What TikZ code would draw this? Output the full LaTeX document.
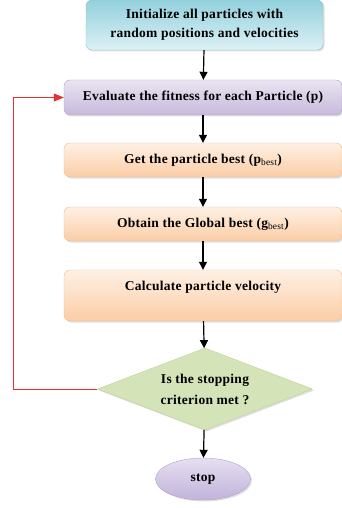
\documentclass[tikz,border=0pt]{standalone}
\usepackage{fontspec}
\setmainfont[LetterSpace=2.0]{Liberation Serif}
\usetikzlibrary{shapes.geometric,shadows,arrows.meta}

\definecolor{initborder}{HTML}{86C3D1}
\definecolor{inittop}{HTML}{93D0DD}
\definecolor{initbot}{HTML}{DDF1F5}
\definecolor{evalborder}{HTML}{B2A2CB}
\definecolor{evaltop}{HTML}{EAE4F2}
\definecolor{evalbot}{HTML}{C7B9DB}
\definecolor{stepborder}{HTML}{F4B98C}
\definecolor{steptop}{HTML}{FEF0E4}
\definecolor{stepbot}{HTML}{FBCDA6}
\definecolor{checkborder}{HTML}{BFD296}
\definecolor{checkfill}{HTML}{D5E3B8}
\definecolor{stoptop}{HTML}{E6DFF1}
\definecolor{stopbot}{HTML}{C2B3DA}
\definecolor{loopred}{HTML}{E8302E}

\tikzset{
	flowbox/.style={rectangle, rounded corners=6pt, align=center, inner sep=2pt,
		font=\fontsize{13.5}{19}\selectfont\bfseries,
		drop shadow={opacity=0.25, shadow xshift=1.5pt, shadow yshift=-1.5pt}},
}

\begin{document}
	\begin{tikzpicture}[x=1pt, y=-1pt]
		\useasboundingbox (0,0) rectangle (342,508);
		\begin{scope}[every node/.style={flowbox}]
			\node (init)[draw=initborder, top color=inittop, bottom color=initbot, minimum width=237pt, minimum height=50pt] at (204.5,25) {Initialize all particles with\\random positions and velocities};
			\node (eval)[draw=evalborder, top color=evaltop, bottom color=evalbot, minimum width=278pt, minimum height=35pt] at (203,97.5) {Evaluate the fitness for each Particle (p)};
		\end{scope}
		\begin{scope}[every node/.style={flowbox, draw=stepborder, top color=steptop, bottom color=stepbot, minimum width=278pt}]
			\node (pbest)[minimum height=34pt] at (203,160) {Get the particle best (p\textsubscript{\mdseries best})};
			\node (gbest)[minimum height=34pt] at (203,224) {Obtain the Global best (g\textsubscript{\mdseries best})};
			\node (veloc)[minimum height=51pt] at (203,295.5) {Calculate particle velocity\\\mbox{}};
		\end{scope}
		\node (check)[flowbox, diamond, rounded corners=0pt, inner sep=0pt, aspect=2.6, draw=checkborder, fill=checkfill, minimum width=215pt, minimum height=82pt, font=\fontsize{13.5}{21}\selectfont\bfseries] at (205,389) {Is the stopping\\criterion met ?};
		\node (stop)[flowbox, ellipse, rounded corners=0pt, draw=evalborder, top color=stoptop, bottom color=stopbot, minimum width=95pt, minimum height=42pt] at (203,479) {stop};
		\coordinate (loop) at (13,389);
		\begin{scope}[every edge/.style={draw, line width=1.2pt, -{Triangle[width=8pt,length=8pt]}}]
			\path (init) edge (eval);
			\path (eval) edge (pbest);
			\path (pbest) edge (gbest);
			\path (gbest) edge (veloc);
			\path (veloc) edge (check);
			\path (check) edge (stop);
		\end{scope}
		\draw[loopred, line width=0.8pt, -{Triangle[width=8pt,length=10pt]}] (check.west) -- (loop) |- (eval.west);
	\end{tikzpicture}
\end{document}
